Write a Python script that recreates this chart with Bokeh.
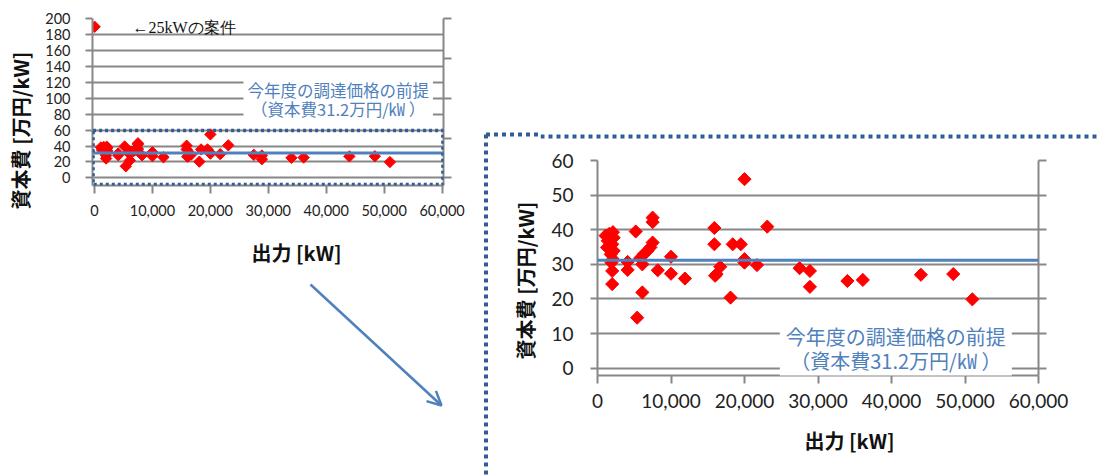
import numpy as np
from bokeh.plotting import figure
from bokeh.models import (Range1d, FixedTicker, NumeralTickFormatter, Span, Label,
                          BoxAnnotation, Arrow, OpenHead, LinearAxis, ColumnDataSource, Spacer)
from bokeh.layouts import row, column
from bokeh.embed import file_html
from bokeh.resources import INLINE

# ---- data ----
output_kw = [25,
             1100, 1600, 2100, 2200, 1400, 2000, 1300, 1700, 2200, 1800, 2100, 1900, 2000, 2000,
             4100, 4100, 5200, 5400, 5800, 6100, 6300, 6800, 7200, 7500, 6100, 7500, 7500,
             8200, 10000, 10000, 11900,
             15900, 15900, 16000, 16200, 16700, 18100, 18400, 19500,
             20000, 20000, 20000, 21700, 23100,
             27500, 28900, 28900, 34000, 36100, 44000, 48400, 51000]
capital_cost = [190,
                38.3, 38.8, 39.3, 37.7, 36.8, 35.8, 34.9, 34.4, 33.9, 32.9, 31.5, 30.5, 28.1, 24.3,
                30.7, 28.4, 39.5, 14.6, 31.8, 30.0, 32.9, 33.9, 34.9, 36.3, 21.9, 43.5, 42.2,
                28.3, 32.2, 27.3, 25.9,
                40.5, 35.8, 26.7, 27.2, 29.3, 20.4, 35.8, 35.8,
                54.6, 31.5, 30.5, 29.8, 40.9,
                28.9, 28.1, 23.5, 25.2, 25.5, 27.0, 27.2, 19.9]
price_basis = 31.2

x_ticks = [0, 10000, 20000, 30000, 40000, 50000, 60000]
big_y_ticks = [0, 10, 20, 30, 40, 50, 60]
small_y_ticks = [0, 20, 40, 60, 80, 100, 120, 140, 160, 180, 200]
small_grid_ticks = [0, 20, 40, 60, 80, 100, 120, 140, 160, 180]
small_right_ticks = [0, 50, 100, 150, 200]

x_title = "出力 [kW]"
y_title = "資本費 [万円/kW]"
basis_text = "今年度の調達価格の前提\n（資本費31.2万円/㎾ ）"
note_25kw = "←25kWの案件"

# ---- styles ----
GRID = "#878787"
RED = "#FF0000"
BLUE = "#4F81BD"
DOT = "#335C96"
TICKFONT = "Lato"
CJK = "Noto Sans CJK JP"
TITLE_KW = dict(text_font=CJK, text_font_style="bold", text_font_size="20px",
                text_color="#111111", text_align="center", text_baseline="middle")

source = ColumnDataSource(dict(x=output_kw, y=capital_cost))


def style_axes(p, tick_size, ylab_standoff, xlab_standoff, right_ticks):
    p.xaxis.ticker = FixedTicker(ticks=x_ticks)
    p.xaxis.formatter = NumeralTickFormatter(format="0,0")
    for ax in p.axis:
        ax.axis_line_color = GRID
        ax.axis_line_width = 2
        ax.major_tick_line_color = GRID
        ax.major_tick_line_width = 2
        ax.minor_tick_line_color = None
        ax.major_tick_in = 0
        ax.major_label_text_font = TICKFONT
        ax.major_label_text_font_size = tick_size
        ax.major_label_text_color = "#222222"
    p.xaxis.major_tick_out = 8
    p.xaxis.major_label_standoff = xlab_standoff
    p.yaxis.major_tick_out = 7
    p.yaxis.major_label_standoff = ylab_standoff
    ra = LinearAxis(ticker=FixedTicker(ticks=right_ticks),
                    axis_line_color=GRID, axis_line_width=2,
                    major_tick_line_color=GRID, major_tick_line_width=2,
                    minor_tick_line_color=None, major_tick_in=0, major_tick_out=8,
                    major_label_text_alpha=0, major_label_text_font_size="8px",
                    major_label_standoff=0)
    p.add_layout(ra, "right")
    p.xgrid.visible = False
    p.ygrid.grid_line_color = GRID
    p.ygrid.grid_line_width = 2
    p.outline_line_color = None


def deco(w, h):
    f = figure(width=w, height=h, x_range=Range1d(0, w), y_range=Range1d(h, 0),
               x_axis_type=None, y_axis_type=None, output_backend="svg",
               toolbar_location=None, title=None, min_border=0)
    f.grid.visible = False
    f.outline_line_color = None
    return f


# ---- small overview chart (left) ----
ps = figure(width=444, height=232, x_range=Range1d(-350, 60250), y_range=Range1d(-9.6, 200.4),
            output_backend="svg", toolbar_location=None, title=None,
            min_border_left=56, min_border_right=37, min_border_top=18, min_border_bottom=47)
ps.yaxis.ticker = FixedTicker(ticks=small_y_ticks)
style_axes(ps, "14.5px", 15, 11, small_right_ticks)
ps.ygrid.ticker = FixedTicker(ticks=small_grid_ticks)
ps.add_layout(Span(location=price_basis, dimension="width", line_color=BLUE, line_width=3))
ps.scatter("x", "y", source=source, marker="square", angle=np.pi / 4, size=8,
           fill_color=RED, line_color=RED)
ps.add_layout(Label(x=42070, y=98.5, text=basis_text, text_align="center",
                    text_baseline="middle", text_font=CJK, text_font_size="16.5px",
                    text_color=BLUE, text_line_height=0.76,
                    background_fill_color="white", background_fill_alpha=1.0, padding=4))
ps.add_layout(Label(x=6550, y=189, text=note_25kw, text_align="left",
                    text_baseline="middle", text_font="Liberation Serif",
                    text_font_size="16px", text_color="#111111"))
ps.add_layout(BoxAnnotation(left=-250, right=60150, bottom=-8.4, top=59.5,
                            fill_alpha=0, line_color=DOT, line_alpha=1.0,
                            line_width=3.5, line_dash="3 3"))

yts = deco(36, 232)
yts.add_layout(Label(x=20, y=130, text=y_title, angle=np.pi / 2, **TITLE_KW))

deco_left = deco(480, 244)
deco_left.add_layout(Label(x=296, y=20, text=x_title, **TITLE_KW))
deco_left.add_layout(Arrow(end=OpenHead(size=14, line_color=BLUE, line_width=2.5),
                           x_start=310, y_start=52, x_end=441, y_end=173,
                           line_color=BLUE, line_width=2.5))

# ---- enlarged chart (right) ----
pb = figure(width=559, height=286, x_range=Range1d(0, 60000), y_range=Range1d(-2.1, 60),
            output_backend="svg", toolbar_location=None, title=None,
            min_border_left=57, min_border_right=61, min_border_top=21, min_border_bottom=50)
pb.yaxis.ticker = FixedTicker(ticks=big_y_ticks)
style_axes(pb, "19px", 17, 10, big_y_ticks)
pb.ygrid.ticker = FixedTicker(ticks=big_y_ticks)
pb.add_layout(Span(location=price_basis, dimension="width", line_color=BLUE, line_width=3))
pb.scatter("x", "y", source=source, marker="square", angle=np.pi / 4, size=9.3,
           fill_color=RED, line_color=RED)
pb.add_layout(Label(x=40590, y=5.7, text=basis_text, text_align="center",
                    text_baseline="middle", text_font=CJK, text_font_size="20px",
                    text_color=BLUE, text_line_height=0.86,
                    background_fill_color="white", background_fill_alpha=1.0, padding=6))

lsb = deco(60, 476)
lsb.segment(x0=[5.5, 5.5], y0=[134, 134], x1=[5.5, 60], y1=[476, 134],
            line_color=DOT, line_width=4, line_dash="4 4")
lsb.add_layout(Label(x=45, y=280, text=y_title, angle=np.pi / 2, **TITLE_KW))

top_strip = deco(559, 10)
top_strip.segment(x0=[0], y0=[5], x1=[559], y1=[5],
                  line_color=DOT, line_width=4, line_dash="4 4")

xtb = deco(559, 51)
xtb.add_layout(Label(x=309, y=15, text=x_title, **TITLE_KW))

left_block = column(row(row(yts), row(ps)), row(deco_left))
right_col = column(Spacer(width=559, height=129), row(top_strip), row(pb), row(xtb))
right_block = row(row(lsb), right_col)
layout = row(left_block, right_block)

open("out.html", "w").write(file_html(layout, INLINE))
